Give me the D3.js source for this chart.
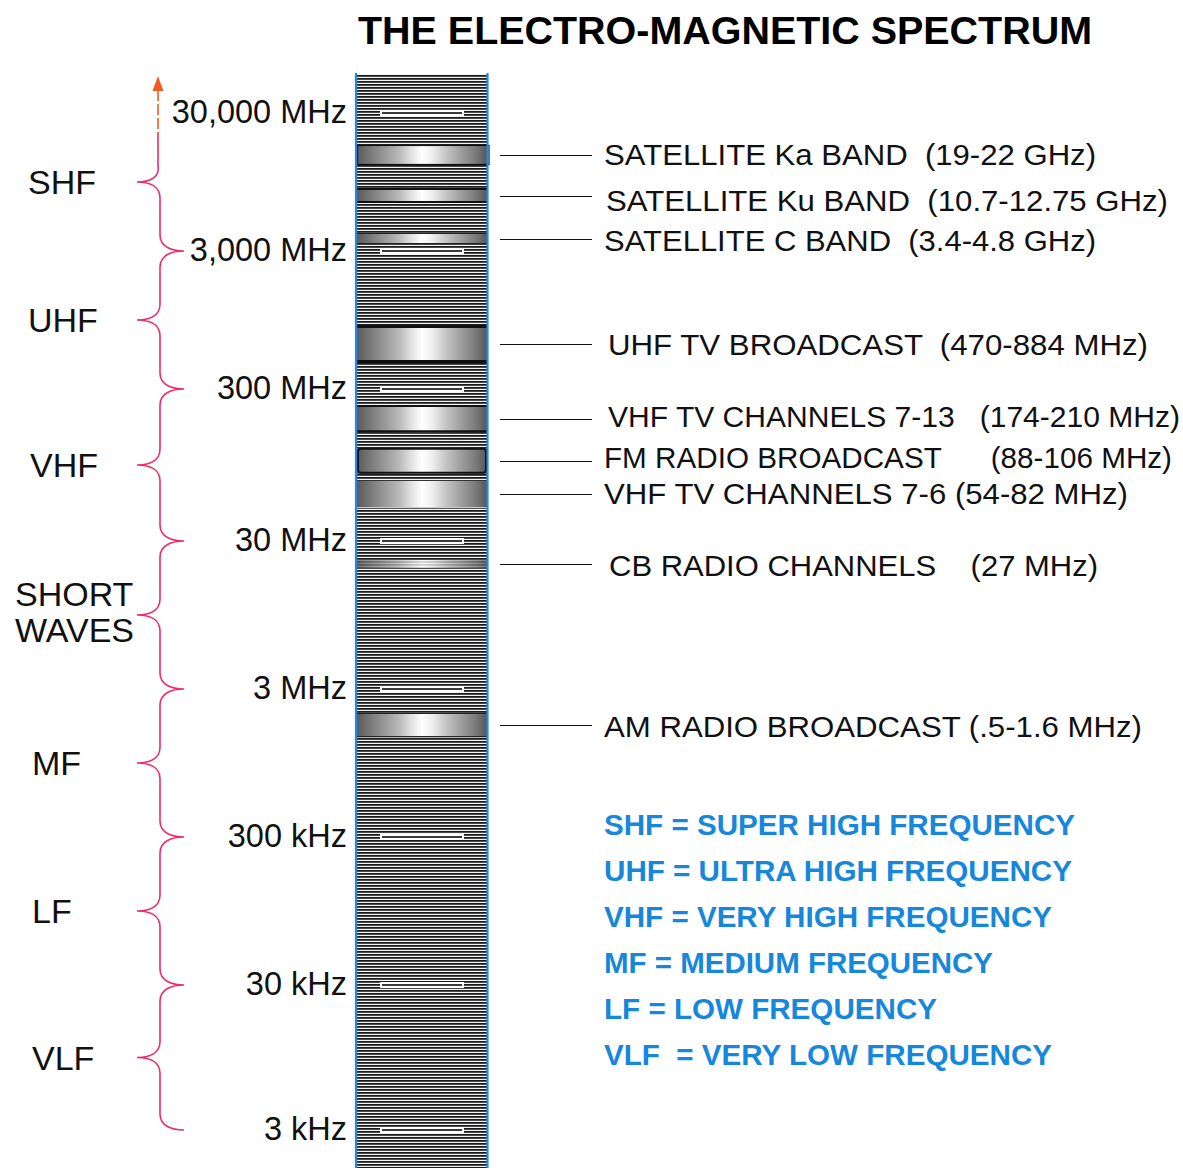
<!DOCTYPE html>
<html><head><meta charset="utf-8">
<script src="https://cdn.jsdelivr.net/npm/d3@7"></script>
<style>
body{margin:0;background:#fff}
svg{display:block}
text{font-family:"Liberation Sans",Arial,sans-serif;white-space:pre}
</style>
</head><body>
<svg id="c" width="1183" height="1168"></svg>
<script>
// ---------------- DATA ----------------
const title = "THE ELECTRO-MAGNETIC SPECTRUM";
const tickValuesMHz = [30000, 3000, 300, 30, 3, 0.3, 0.03, 0.003];
const tickLabels = ["30,000 MHz", "3,000 MHz", "300 MHz", "30 MHz", "3 MHz", "300 kHz", "30 kHz", "3 kHz"];
const rangeNames = [["SHF"], ["UHF"], ["VHF"], ["SHORT", "WAVES"], ["MF"], ["LF"], ["VLF"]];
const bandLabels = [
  "SATELLITE Ka BAND  (19-22 GHz)",
  "SATELLITE Ku BAND  (10.7-12.75 GHz)",
  "SATELLITE C BAND  (3.4-4.8 GHz)",
  "UHF TV BROADCAST  (470-884 MHz)",
  "VHF TV CHANNELS 7-13   (174-210 MHz)",
  "FM RADIO BROADCAST      (88-106 MHz)",
  "VHF TV CHANNELS 7-6 (54-82 MHz)",
  "CB RADIO CHANNELS    (27 MHz)",
  "AM RADIO BROADCAST (.5-1.6 MHz)"
];
// band extents as drawn on the column (MHz, read against the column's scale)
const bandLowMHz  = [12600, 6680, 3370, 463, 156, 83, 49.4, 19.7, 1.42];
const bandHighMHz = [17600, 8580, 4050, 873, 235, 123, 75.6, 22.3, 2.07];
const legendLines = [
  "SHF = SUPER HIGH FREQUENCY",
  "UHF = ULTRA HIGH FREQUENCY",
  "VHF = VERY HIGH FREQUENCY",
  "MF = MEDIUM FREQUENCY",
  "LF = LOW FREQUENCY",
  "VLF  = VERY LOW FREQUENCY"
];

// ---------------- LAYOUT / STYLE ----------------
const tickPx = [113, 251, 389, 541, 689, 837, 985, 1130];
const colL = 357, colR = 487, colTop = 74, H = 1168;
const bandStyle = ["box", "lines2", "lines1", "thick", "lines2", "round", "top1", "none", "lines1"];
const bandLabelX = [604, 606, 604, 608, 608, 604, 604, 609, 604];
const bandLabelW = [492, 562, 492, 540, 572, 568, 524, 489, 538];
const bandLabelDy = [0, 5, 2, 1, -2, -3, 0, 2, 2];
const rangeLabelX = [28, 28, 30, 15, 32, 32, 32];
const legendW = [471, 468, 448, 389, 333, 448];
const pink = "#ee2c67", orange = "#f25a22", blue = "#1787dc", colBlue = "#1e8ce6";

const svg = d3.select("#c");
const y = d3.scaleLog().domain(tickValuesMHz).range(tickPx);

const defs = svg.append("defs");
const pat = defs.append("pattern").attr("id", "stripes").attr("patternUnits", "userSpaceOnUse")
  .attr("width", 10).attr("height", 3);
pat.append("rect").attr("width", 10).attr("height", 3).attr("fill", "#f4f4f4");
pat.append("rect").attr("y", 0).attr("width", 10).attr("height", 1).attr("fill", "#1c1c1c");
pat.append("rect").attr("y", 1).attr("width", 10).attr("height", 1).attr("fill", "#4a4a4a");

const grad = defs.append("linearGradient").attr("id", "bandGrad").attr("x1", 0).attr("x2", 1).attr("y1", 0).attr("y2", 0);
[[0, "#5a5a5a"], [0.08, "#727272"], [0.2, "#959595"], [0.32, "#b8b8b8"], [0.42, "#e2e2e2"], [0.5, "#fff"],
 [0.58, "#eeeeee"], [0.68, "#c6c6c6"], [0.8, "#9e9e9e"], [0.92, "#787878"], [1, "#565656"]]
  .forEach(([o, c]) => grad.append("stop").attr("offset", o).attr("stop-color", c));

// Title
svg.append("text").attr("x", 358).attr("y", 44).attr("font-size", 38).attr("font-weight", "bold")
  .attr("textLength", 734).attr("lengthAdjust", "spacingAndGlyphs").text(title);

// Column
svg.append("rect").attr("x", colL).attr("y", colTop).attr("width", colR - colL).attr("height", H - colTop)
  .attr("fill", "url(#stripes)");

// Bands
const bands = bandLabels.map((t, i) => ({ t, lo: bandLowMHz[i], hi: bandHighMHz[i], s: bandStyle[i], i }));
const bg = svg.append("g");
bands.forEach(b => {
  const y0 = y(b.hi), y1 = y(b.lo);
  const g = bg.append("g");
  g.append("rect").attr("x", colL).attr("y", y0).attr("width", colR - colL).attr("height", y1 - y0)
    .attr("fill", "url(#bandGrad)").attr("opacity", b.s === "none" ? 0.8 : 1);
  const hl = (yy, w, c) => g.append("line").attr("x1", colL).attr("x2", colR).attr("y1", yy).attr("y2", yy)
    .attr("stroke", c || "#111").attr("stroke-width", w);
  if (b.s === "box") {
    g.append("rect").attr("x", colL + 0.5).attr("y", y0 + 0.5).attr("width", colR - colL + 1.5).attr("height", y1 - y0 - 1)
      .attr("fill", "none").attr("stroke", "#111").attr("stroke-width", 1.2);
  } else if (b.s === "round") {
    g.append("rect").attr("x", colL + 1).attr("y", y0 + 1).attr("width", colR - colL - 2).attr("height", y1 - y0 - 2)
      .attr("rx", 3).attr("fill", "none").attr("stroke", "#111").attr("stroke-width", 2);
  } else if (b.s === "thick") {
    hl(y0 + 1.5, 3); hl(y1 - 1.5, 3);
  } else if (b.s === "lines2") {
    hl(y0 + 1, 2); hl(y1 - 1, 2);
  } else if (b.s === "lines1") {
    hl(y0 + 0.5, 1.2, "#222"); hl(y1 - 0.5, 1.2, "#222");
  } else if (b.s === "top1") {
    hl(y0 + 0.5, 1, "#333"); hl(y1 - 0.5, 1, "#ccc");
  }
  // leader line
  const cy = (y0 + y1) / 2;
  svg.append("line").attr("x1", 500).attr("x2", 592).attr("y1", Math.round(cy) + 0.5).attr("y2", Math.round(cy) + 0.5)
    .attr("stroke", "#111").attr("stroke-width", 1.2);
  svg.append("text").attr("x", bandLabelX[b.i]).attr("y", cy + bandLabelDy[b.i]).attr("dy", "0.36em")
    .attr("font-size", 29).attr("fill", "#111")
    .attr("textLength", bandLabelW[b.i]).attr("lengthAdjust", "spacingAndGlyphs").text(b.t);
});

// Blue column borders
[colL - 1, colR + 0.5].forEach(x => svg.append("line").attr("x1", x).attr("x2", x).attr("y1", colTop - 1).attr("y2", H)
  .attr("stroke", colBlue).attr("stroke-width", 2.2));

// Tick markers and labels
tickValuesMHz.forEach((v, i) => {
  const ty = Math.round(y(v));
  svg.append("rect").attr("x", 380).attr("y", ty - 3).attr("width", 84).attr("height", 6).attr("fill", "#fff");
  svg.append("rect").attr("x", 382).attr("y", ty - 1).attr("width", 80).attr("height", 2).attr("fill", "#3a3a3a");
  svg.append("text").attr("x", 347).attr("y", ty - 2).attr("dy", "0.36em").attr("text-anchor", "end")
    .attr("font-size", 32.5).attr("fill", "#111").text(tickLabels[i]);
});

// Braces
const bx = 160, lx = 137, rx = 184, r = 16;
const p = d3.path();
p.moveTo(bx - 2, 133);
for (let i = 0; i < tickValuesMHz.length - 1; i++) {
  const yTop = y(tickValuesMHz[i]), yBot = y(tickValuesMHz[i + 1]);
  const ym = y(Math.sqrt(tickValuesMHz[i] * tickValuesMHz[i + 1]));
  if (i > 0) { p.bezierCurveTo(rx - 12, yTop, bx, yTop + 4, bx, yTop + r); p.lineTo(bx, ym - r); }
  else p.lineTo(bx - 2, ym - r);
  p.bezierCurveTo(bx, ym - 4, lx + 12, ym, lx, ym);
  p.bezierCurveTo(lx + 12, ym, bx, ym + 4, bx, ym + r);
  p.lineTo(bx, yBot - r);
  p.bezierCurveTo(bx, yBot - 4, rx - 12, yBot, rx, yBot);

  // range label
  const names = rangeNames[i];
  names.forEach((n, k) => {
    const off = names.length === 1 ? 0 : (k === 0 ? -21 : 15);
    svg.append("text").attr("x", rangeLabelX[i]).attr("y", ym + off).attr("dy", "0.36em")
      .attr("font-size", 34).attr("fill", "#111").text(n);
  });
}
svg.append("path").attr("d", p.toString()).attr("fill", "none").attr("stroke", pink).attr("stroke-width", 1.6);

// top arrow (dashed orange)
svg.append("line").attr("x1", 158).attr("x2", 158).attr("y1", 90).attr("y2", 133)
  .attr("stroke", orange).attr("stroke-width", 1.6).attr("stroke-dasharray", "11,3");
svg.append("path").attr("d", "M158,76 L152.5,91 L163.5,91 Z").attr("fill", orange);

// Legend
legendLines.forEach((t, i) => {
  svg.append("text").attr("x", 604).attr("y", 825 + i * 46).attr("dy", "0.36em")
    .attr("font-size", 29).attr("font-weight", "bold").attr("fill", blue)
    .attr("textLength", legendW[i]).attr("lengthAdjust", "spacingAndGlyphs").text(t);
});
</script>
</body></html>
